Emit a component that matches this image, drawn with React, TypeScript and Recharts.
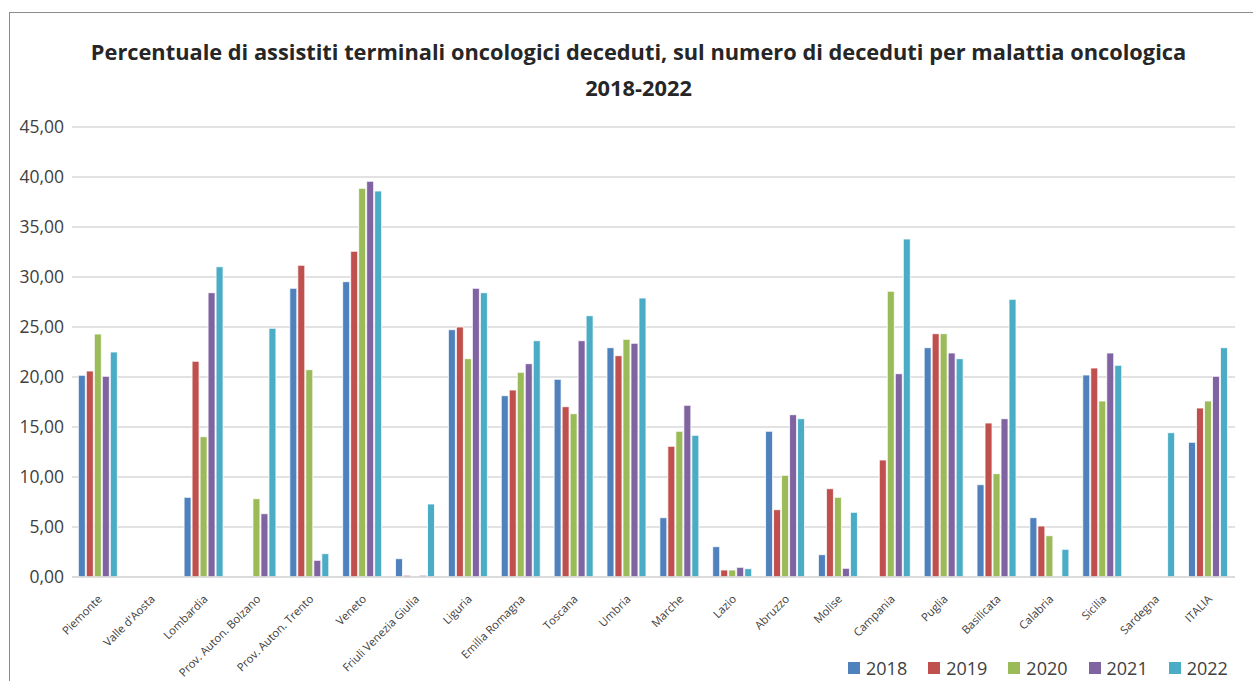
import React from 'react';
import { BarChart, Bar, XAxis, YAxis, CartesianGrid } from 'recharts';

const regioni = [
  'Piemonte', "Valle d'Aosta", 'Lombardia', 'Prov. Auton. Bolzano', 'Prov. Auton. Trento',
  'Veneto', 'Friuli Venezia Giulia', 'Liguria', 'Emilia Romagna', 'Toscana', 'Umbria',
  'Marche', 'Lazio', 'Abruzzo', 'Molise', 'Campania', 'Puglia', 'Basilicata', 'Calabria',
  'Sicilia', 'Sardegna', 'ITALIA',
];

const anni = ['2018', '2019', '2020', '2021', '2022'];
const colori = ['#4F81BD', '#C0504D', '#9BBB59', '#8064A2', '#4BACC6'];

const val2018 = [20.17, null, 7.97, null, 28.87, 29.53, 1.83, 24.73, 18.13, 19.77, 22.93, 5.93, 3.03, 14.57, 2.23, 0.07, 22.93, 9.23, 5.93, 20.2, null, 13.47];
const val2019 = [20.6, null, 21.57, null, 31.17, 32.57, 0.17, 25.0, 18.7, 17.03, 22.13, 13.07, 0.7, 6.73, 8.83, 11.7, 24.33, 15.4, 5.1, 20.9, null, 16.9];
const val2020 = [24.3, null, 14.03, 7.83, 20.73, 38.87, null, 21.83, 20.47, 16.33, 23.77, 14.57, 0.7, 10.17, 7.97, 28.57, 24.33, 10.33, 4.13, 17.6, null, 17.6];
const val2021 = [20.07, null, 28.43, 6.33, 1.67, 39.57, 0.17, 28.87, 21.33, 23.63, 23.37, 17.17, 0.97, 16.23, 0.87, 20.33, 22.4, 15.83, null, 22.4, null, 20.07];
const val2022 = [22.5, null, 31.03, 24.87, 2.33, 38.6, 7.3, 28.43, 23.63, 26.13, 27.9, 14.17, 0.83, 15.83, 6.47, 33.8, 21.83, 27.77, 2.77, 21.17, 14.43, 22.93];

const yTicks = [0, 5, 10, 15, 20, 25, 30, 35, 40, 45];

const serie = [val2018, val2019, val2020, val2021, val2022];

const dati = regioni.map((nome, i) => {
  const riga: Record<string, string | number | null> = { nome };
  anni.forEach((a, k) => {
    riga[a] = serie[k][i];
  });
  return riga;
});

const FONT = '"Open Sans", "Noto Sans", sans-serif';

const TickRegione = (props: any) => {
  const { x, y, payload } = props;
  return (
    <g transform={`translate(${x + 1.5},${y + 18})`}>
      <text
        textAnchor="end"
        transform="rotate(-45)"
        dy="0.35em"
        fontSize={11.3}
        fontFamily={FONT}
        fill="#404040"
      >
        {payload.value}
      </text>
    </g>
  );
};

export default function App() {
  return (
    <div
      style={{
        position: 'absolute',
        left: 0,
        top: 0,
        width: 1253,
        height: 681,
        overflow: 'hidden',
        background: '#fff',
        fontFamily: FONT,
      }}
    >
      <div
        style={{
          position: 'absolute',
          left: 9,
          top: 12,
          width: 1300,
          height: 720,
          border: '1.5px solid #8c8c8c',
          boxSizing: 'border-box',
        }}
      />
      <div
        style={{
          position: 'absolute',
          left: 12,
          top: 34,
          width: 1253,
          textAlign: 'center',
          fontWeight: 700,
          fontSize: 21.8,
          lineHeight: '36px',
          color: '#262626',
        }}
      >
        Percentuale di assistiti terminali oncologici deceduti, sul numero di deceduti per malattia oncologica
        <br />
        2018-2022
      </div>
      <div style={{ position: 'absolute', left: 0, top: 0 }}>
        <BarChart
          width={1253}
          height={681}
          data={dati}
          margin={{ top: 127, right: 18, bottom: 0, left: 0 }}
          barCategoryGap="12%"
          barGap={1}
        >
          <CartesianGrid vertical={false} stroke="#d9d9d9" strokeWidth={1.3} />
          <XAxis
            dataKey="nome"
            interval={0}
            height={104}
            tickLine={false}
            tickSize={0}
            axisLine={{ stroke: '#d9d9d9', strokeWidth: 1.3 }}
            tick={<TickRegione />}
          />
          <YAxis
            width={72}
            domain={[0, 45]}
            ticks={yTicks}
            axisLine={false}
            tickLine={false}
            tickSize={0}
            tickMargin={8}
            tickFormatter={(v: number) => v.toFixed(2).replace('.', ',')}
            tick={{ fontSize: 17.5, fill: '#404040', fontFamily: FONT }}
          />
          {anni.map((a, k) => (
            <Bar
              key={a}
              dataKey={a}
              fill={colori[k]}
              stroke="#ffffff"
              strokeWidth={0.8}
              isAnimationActive={false}
            />
          ))}
        </BarChart>
      </div>
      <div
        style={{
          position: 'absolute',
          left: 848,
          top: 656,
          display: 'flex',
          alignItems: 'center',
          fontSize: 18,
          color: '#404040',
        }}
      >
        {anni.map((a, k) => (
          <div key={a} style={{ display: 'flex', alignItems: 'center', marginRight: 21 }}>
            <span
              style={{
                display: 'inline-block',
                width: 12,
                height: 12,
                background: colori[k],
                marginRight: 6,
              }}
            />
            <span>{a}</span>
          </div>
        ))}
      </div>
    </div>
  );
}
